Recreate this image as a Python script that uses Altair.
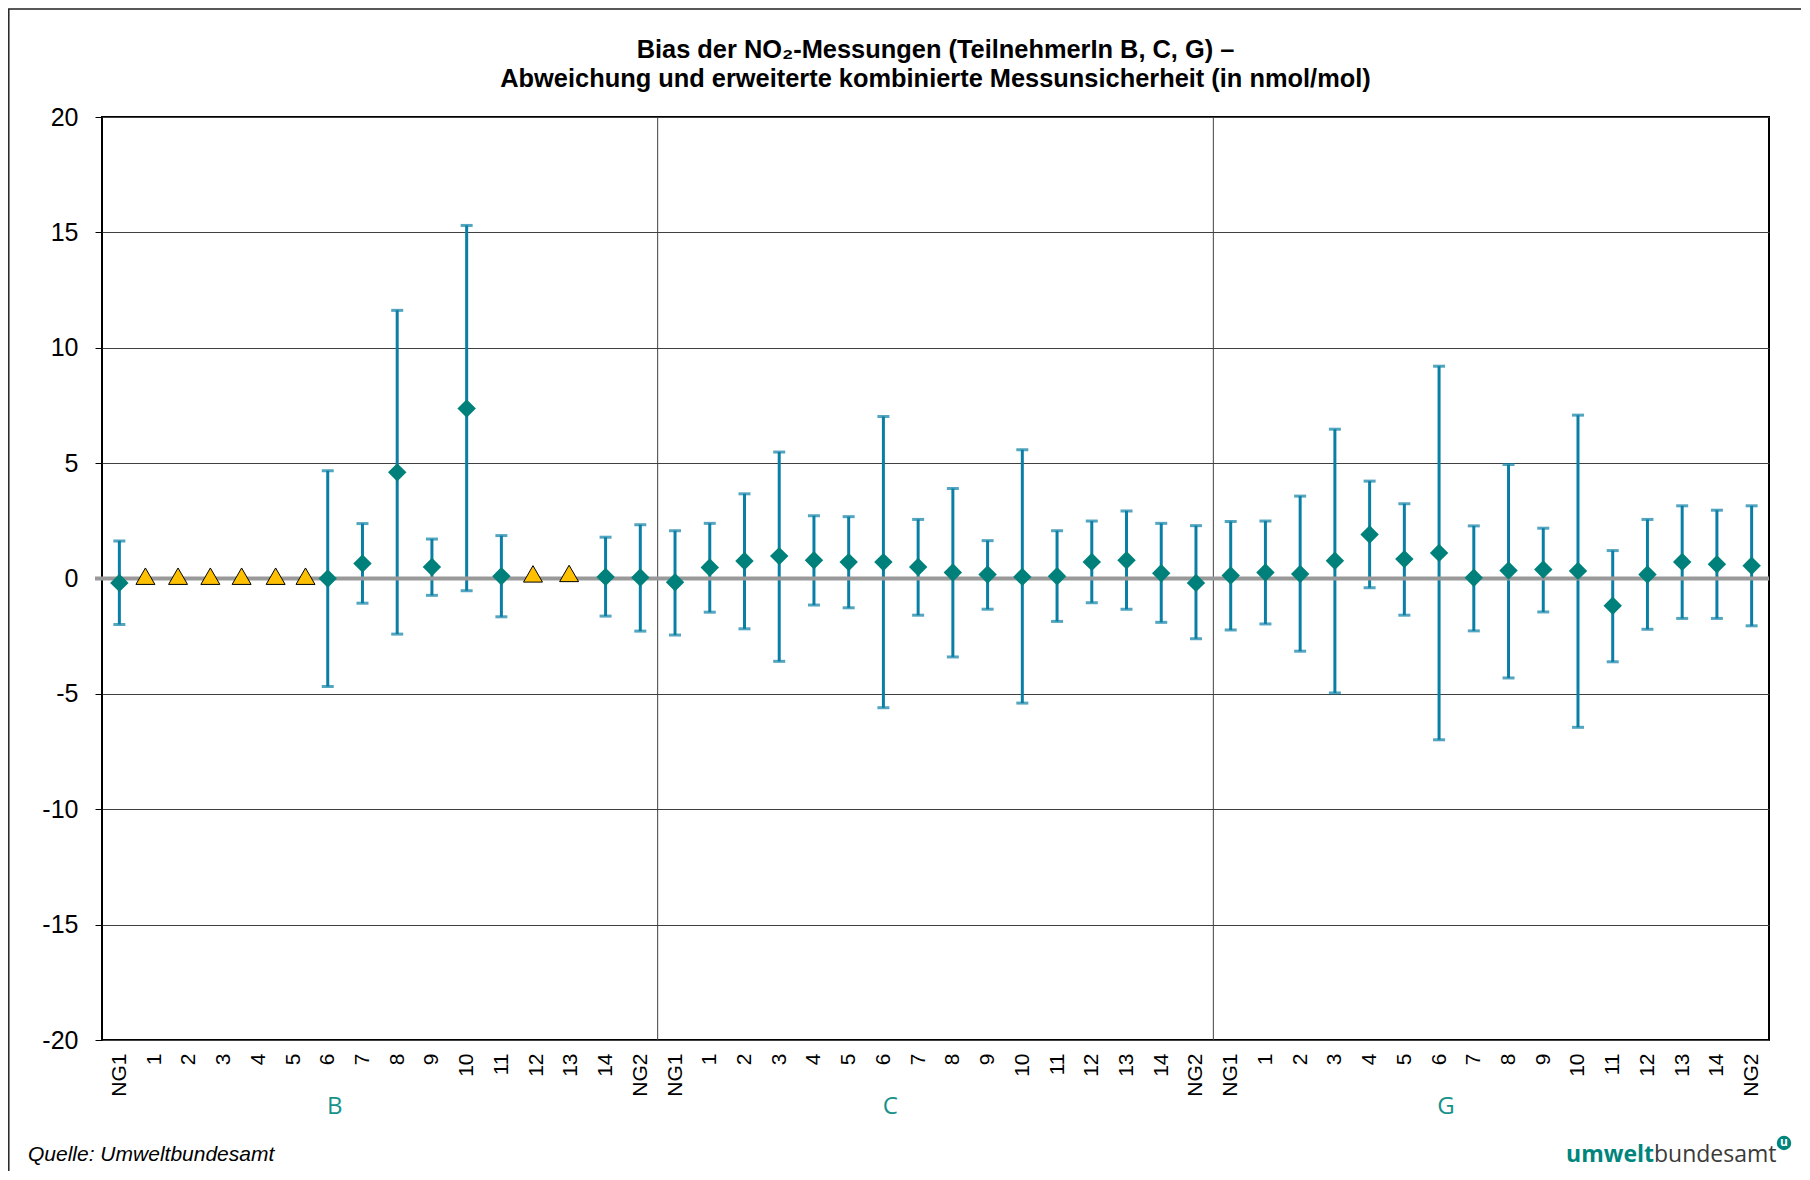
import json
import altair as alt
import pandas as pd

# ---------------- data ----------------
groups = ["B", "C", "G"]
slot_labels = ["NG1", "1", "2", "3", "4", "5", "6", "7", "8", "9", "10", "11", "12", "13", "14", "NG2"]
x_labels = slot_labels * 3

bias = [
    -0.19, None, None, None, None, None, 0.00, 0.65, 4.60, 0.50, 7.37, 0.10, None, None, 0.07, 0.04,
    -0.16, 0.48, 0.76, 0.97, 0.79, 0.71, 0.71, 0.50, 0.26, 0.17, 0.07, 0.10, 0.72, 0.79, 0.23, -0.19,
    0.13, 0.26, 0.20, 0.77, 1.91, 0.84, 1.11, 0.03, 0.35, 0.39, 0.33, -1.18, 0.17, 0.72, 0.62, 0.55,
]
lower = [
    -1.99, None, None, None, None, None, -4.68, -1.07, -2.41, -0.73, -0.53, -1.66, None, None, -1.63, -2.28,
    -2.45, -1.46, -2.18, -3.59, -1.15, -1.27, -5.60, -1.59, -3.40, -1.33, -5.40, -1.86, -1.05, -1.33, -1.90, -2.61,
    -2.23, -1.97, -3.15, -4.96, -0.40, -1.59, -6.99, -2.27, -4.31, -1.45, -6.45, -3.61, -2.20, -1.73, -1.73, -2.05,
]
upper = [
    1.63, None, None, None, None, None, 4.67, 2.38, 11.62, 1.71, 15.30, 1.86, None, None, 1.79, 2.33,
    2.07, 2.39, 3.67, 5.48, 2.72, 2.68, 7.02, 2.56, 3.90, 1.64, 5.58, 2.07, 2.49, 2.93, 2.39, 2.29,
    2.47, 2.49, 3.57, 6.47, 4.22, 3.24, 9.20, 2.28, 4.94, 2.18, 7.08, 1.21, 2.56, 3.15, 2.96, 3.15,
]
# yellow triangles (participant B, separate series)
tri_x = [0.75, 1.69, 2.62, 3.52, 4.50, 5.36, 11.91, 12.95]
tri_y = [0.10, 0.10, 0.10, 0.10, 0.10, 0.10, 0.20, 0.22]

group_label_x = [6.2, 22.2, 38.2]
separators = [15.5, 31.5]
y_ticks = [-20, -15, -10, -5, 0, 5, 10, 15, 20]

title_lines = [
    "Bias der NO\u2082-Messungen (TeilnehmerIn B, C, G) \u2013",
    "Abweichung und erweiterte kombinierte Messunsicherheit (in nmol/mol)",
]

# ---------------- tables ----------------
rows = [
    {"idx": i, "bias": b, "lo": l, "hi": h}
    for i, (b, l, h) in enumerate(zip(bias, lower, upper))
    if b is not None
]
df = pd.DataFrame(rows)
caps = pd.DataFrame(
    [{"idx": r["idx"], "v": r["lo"]} for r in rows] + [{"idx": r["idx"], "v": r["hi"]} for r in rows]
)
tri = pd.DataFrame({"idx": tri_x, "v": tri_y})
sep_df = pd.DataFrame({"idx": separators})
zero_df = pd.DataFrame({"v": [0]})
grp_df = pd.DataFrame({"idx": group_label_x, "g": groups})

# ---------------- styling ----------------
W, H = 1667, 923
FONT = "Liberation Sans"
EB = "#0a7fa5"
TEAL = "#00807a"
GTEAL = "#17918b"

xscale = alt.Scale(domain=[-0.5, 47.5], nice=False, zero=False)
yscale = alt.Scale(domain=[-20, 20], nice=False, zero=False)

x_axis = alt.Axis(
    values=list(range(48)),
    labelExpr=json.dumps(x_labels) + "[datum.value]",
    labelAngle=-90,
    labelFont=FONT,
    labelFontSize=21,
    labelColor="black",
    labelPadding=13,
    labelFlush=False,
    labelOverlap=False,
    ticks=False,
    domain=False,
    grid=False,
    title=None,
)
y_axis = alt.Axis(
    values=y_ticks,
    labelExpr="'' + datum.value",
    labelFont=FONT,
    labelFontSize=25,
    labelColor="black",
    labelPadding=17,
    labelFlush=False,
    tickSize=7,
    tickColor="black",
    tickWidth=1,
    domain=False,
    grid=True,
    gridColor="#404040",
    gridWidth=1,
    title=None,
)


def X(field):
    return alt.X(field, scale=xscale, axis=x_axis)


def Y(field):
    return alt.Y(field, scale=yscale, axis=y_axis)


err = alt.Chart(df).mark_rule(color=EB, strokeWidth=3).encode(
    x=X("idx:Q"), y=Y("lo:Q"), y2="hi:Q"
)

sep = alt.Chart(sep_df).mark_rule(color="#404040", strokeWidth=1).encode(x=X("idx:Q"))

zero = alt.Chart(zero_df).mark_rule(color="#999999", strokeWidth=4).encode(
    y=Y("v:Q"), x=alt.value(-7), x2=alt.value(W)
)

cap = alt.Chart(caps).mark_tick(orient="horizontal", size=12, thickness=3, color=EB).encode(
    x=X("idx:Q"), y=Y("v:Q")
)

dia = alt.Chart(df).mark_point(shape="diamond", filled=True, size=340, color=TEAL, opacity=1).encode(
    x=X("idx:Q"), y=Y("bias:Q")
)

tris = alt.Chart(tri).mark_point(
    shape="triangle-up", filled=True, fill="#FFC000", stroke="black", strokeWidth=1, size=360, opacity=1
).encode(x=X("idx:Q"), y=Y("v:Q"))

grp = alt.Chart(grp_df).mark_text(font="Open Sans", fontSize=24, color=GTEAL, baseline="middle").encode(
    x=X("idx:Q"), y=alt.value(H + 67), text="g:N"
)

t1 = alt.Chart(pd.DataFrame({"t": [title_lines[0]]})).mark_text(
    font=FONT, fontSize=25.4, fontWeight="bold", color="black", baseline="middle", align="center"
).encode(x=alt.value(W / 2), y=alt.value(-67), text="t:N")
t2 = alt.Chart(pd.DataFrame({"t": [title_lines[1]]})).mark_text(
    font=FONT, fontSize=25.4, fontWeight="bold", color="black", baseline="middle", align="center"
).encode(x=alt.value(W / 2), y=alt.value(-38), text="t:N")

src = alt.Chart(pd.DataFrame({"t": ["Quelle: Umweltbundesamt"]})).mark_text(
    font=FONT, fontSize=21, fontStyle="italic", color="black", align="left", baseline="alphabetic"
).encode(x=alt.value(-74), y=alt.value(H + 121), text="t:N")

logo1 = alt.Chart(pd.DataFrame({"t": ["umwelt"]})).mark_text(
    font="Open Sans", fontSize=23, fontWeight="bold", color="#00857d", align="right", baseline="alphabetic"
).encode(x=alt.value(1552), y=alt.value(H + 122), text="t:N")
logo2 = alt.Chart(pd.DataFrame({"t": ["bundesamt"]})).mark_text(
    font="Open Sans", fontSize=23, color="#3a3a3a", align="left", baseline="alphabetic"
).encode(x=alt.value(1552), y=alt.value(H + 122), text="t:N")
logo_dot = alt.Chart(pd.DataFrame({"t": ["u"]})).mark_point(
    shape="circle", filled=True, size=210, color="#00857d", opacity=1
).encode(x=alt.value(1682), y=alt.value(H + 103))
logo_u = alt.Chart(pd.DataFrame({"t": ["u"]})).mark_text(
    font="Open Sans", fontSize=12, fontWeight="bold", color="white", baseline="middle", align="center"
).encode(x=alt.value(1682), y=alt.value(H + 102), text="t:N")

frame = alt.Chart(pd.DataFrame({"t": [0]})).mark_rect(
    fillOpacity=0, stroke="#222222", strokeWidth=1.5
).encode(x=alt.value(-93.2), x2=alt.value(W + 70), y=alt.value(-108), y2=alt.value(H + 200))

chart = (
    alt.layer(err, sep, zero, cap, dia, tris, grp, t1, t2, src, logo1, logo2, logo_dot, logo_u, frame)
    .properties(
        width=W,
        height=H,
        padding={"left": 94, "top": 109, "right": 32, "bottom": 131},
        autosize=alt.AutoSizeParams(type="none"),
        background="white",
    )
    .configure_view(stroke="black", strokeWidth=2)
)

chart.save("out.html", embed_options={"renderer": "svg", "actions": False})
